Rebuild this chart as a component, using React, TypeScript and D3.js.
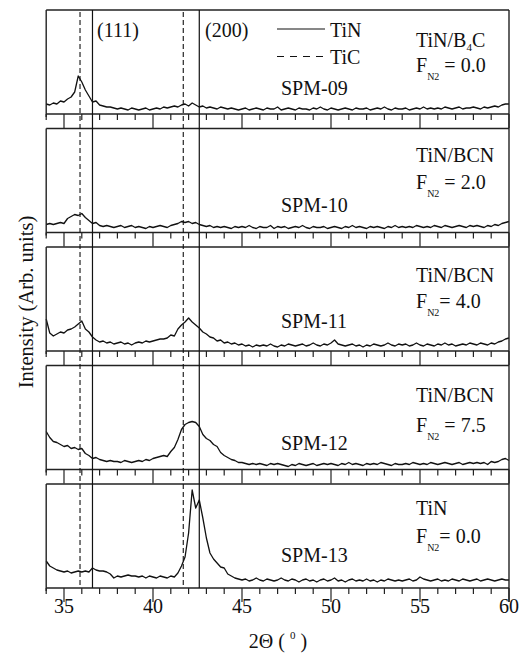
import React from "react";
import * as d3 from "d3";

// ---- data ----
const ANGLE_START = 34;
const ANGLE_STEP = 0.2;
const X_DOMAIN = [34, 60];
const TICK_LABELS = [35, 40, 45, 50, 55, 60];
const TIN_PEAKS = [36.6, 42.6];
const TIC_PEAKS = [35.9, 41.7];
const SAMPLE_IDS = ["SPM-09", "SPM-10", "SPM-11", "SPM-12", "SPM-13"];
const MATERIALS = ["TiN/B4C", "TiN/BCN", "TiN/BCN", "TiN/BCN", "TiN"];
const FN2_LABELS = [" = 0.0", " = 2.0", "= 4.0", " = 7.5", "= 0.0"];

const SPM09 = [
  10, 9, 11, 10, 13, 12, 15, 17, 22, 38,
  32, 24, 18, 12, 13, 9, 8, 7, 7, 6,
  5, 6, 5, 4, 6, 5, 4, 5, 6, 4,
  5, 6, 5, 7, 6, 7, 8, 7, 9, 10,
  8, 11, 9, 7, 8, 6, 7, 6, 5, 7,
  6, 5, 6, 5, 4, 5, 6, 4, 5, 6,
  5, 4, 6, 5, 5, 7, 4, 5, 6, 5,
  4, 6, 5, 5, 4, 6, 5, 7, 5, 4,
  6, 5, 4, 5, 6, 5, 4, 6, 5, 5,
  6, 4, 5, 6, 5, 7, 5, 4, 6, 5,
  5, 6, 4, 5, 6, 5, 7, 5, 6, 5,
  6, 5, 7, 6, 5, 6, 7, 5, 6, 6,
  7, 6, 5, 7, 6, 7, 8, 7, 9, 10,
  10,
];
const SPM10 = [
  8, 9, 8, 9, 10, 9, 14, 16, 18, 17,
  19, 15, 12, 9, 10, 7, 6, 7, 6, 5,
  6, 7, 5, 6, 7, 5, 6, 5, 4, 6,
  5, 6, 7, 6, 5, 7, 8, 9, 11, 10,
  11, 9, 10, 8, 7, 6, 7, 5, 6, 5,
  6, 5, 4, 6, 5, 6, 5, 7, 5, 4,
  6, 5, 5, 7, 4, 6, 5, 6, 4, 5,
  6, 5, 7, 5, 4, 6, 5, 5, 6, 4,
  5, 6, 5, 4, 6, 5, 7, 5, 6, 5,
  4, 6, 5, 6, 5, 4, 6, 5, 7, 5,
  6, 5, 6, 5, 7, 6, 5, 6, 5, 7,
  6, 5, 7, 6, 5, 6, 7, 6, 5, 7,
  6, 7, 6, 5, 7, 6, 8, 7, 9, 10,
  11,
];
const SPM11 = [
  32, 18, 15, 17, 19, 18, 21, 22, 24, 27,
  30, 22, 19, 14, 11, 9, 10, 8, 9, 7,
  8, 9, 7, 8, 6, 8, 9, 8, 10, 9,
  10, 11, 12, 12, 13, 16, 15, 22, 26, 29,
  33, 29, 26, 23, 19, 17, 14, 13, 10, 11,
  8, 9, 7, 8, 6, 7, 5, 6, 4, 6,
  5, 6, 5, 7, 5, 4, 6, 5, 7, 6,
  5, 6, 7, 5, 6, 8, 6, 5, 7, 6,
  8, 11, 7, 6, 5, 6, 7, 5, 6, 4,
  6, 5, 7, 6, 5, 6, 8, 6, 5, 7,
  6, 7, 5, 6, 8, 6, 5, 7, 6, 5,
  7, 6, 8, 6, 7, 5, 6, 7, 6, 8,
  7, 6, 8, 7, 6, 8, 7, 9, 10, 12,
  13,
];
const SPM12 = [
  38, 32, 28, 27, 25, 23, 24, 21, 22, 20,
  21, 16, 14, 11, 12, 10, 9, 8, 9, 8,
  8, 7, 9, 8, 7, 8, 9, 8, 10, 9,
  11, 12, 13, 14, 13, 18, 22, 30, 40, 45,
  47, 48, 47, 43, 35, 31, 29, 25, 23, 17,
  14, 12, 10, 9, 7, 7, 6, 5, 6, 5,
  6, 5, 4, 6, 5, 6, 5, 4, 3, 5,
  4, 6, 5, 4, 5, 6, 4, 5, 6, 5,
  6, 5, 4, 6, 5, 7, 5, 6, 5, 4,
  6, 5, 6, 5, 7, 6, 5, 4, 6, 5,
  5, 6, 5, 7, 6, 5, 6, 5, 7, 6,
  5, 6, 7, 6, 5, 6, 7, 5, 6, 7,
  6, 7, 6, 7, 5, 8, 7, 8, 10, 11,
  9,
];
const SPM13 = [
  27, 22, 20, 18, 17, 16, 17, 15, 16, 17,
  16, 17, 16, 20, 18, 17, 17, 16, 14, 10,
  12, 11, 12, 13, 12, 12, 11, 12, 10, 12,
  11, 10, 12, 11, 10, 12, 11, 15, 22, 31,
  55, 98, 80, 88, 70, 50, 35, 29, 25, 21,
  20, 14, 12, 10, 9, 8, 9, 7, 8, 10,
  8, 7, 9, 8, 7, 8, 10, 8, 7, 9,
  8, 6, 8, 9, 7, 8, 6, 8, 9, 7,
  8, 10, 7, 8, 6, 8, 9, 7, 8, 7,
  9, 7, 8, 6, 8, 7, 9, 8, 7, 8,
  7, 8, 9, 7, 8, 11, 9, 8, 7, 8,
  9, 7, 8, 7, 9, 8, 7, 9, 8, 7,
  8, 9, 7, 8, 9, 8, 7, 8, 9, 8,
  8,
];
const SERIES = [SPM09, SPM10, SPM11, SPM12, SPM13];

// ---- layout ----
const W = 528;
const H = 657;
const LEFT = 46.2;
const RIGHT = 509;
const TOP0 = 10;
const PANEL_H = 104;
const PERIOD = 118.5;
const FONT = "'Liberation Serif', 'Times New Roman', serif";
const TITLE_DY = [36.5, 33, 34.7, 36, 31];
const FN2_DY = [61.7, 60, 61, 66, 59];
const SPM_DY = [85, 83.5, 80.5, 84.5, 78];

export default function App() {
  const x = d3.scaleLinear().domain(X_DOMAIN).range([LEFT, RIGHT]);
  const tickVals = d3.range(X_DOMAIN[0], X_DOMAIN[1] + 1, 1);
  const lastBottom = TOP0 + 4 * PERIOD + PANEL_H;

  const panels = SERIES.map((vals, p) => {
    const top = TOP0 + p * PERIOD;
    const bottom = top + PANEL_H;
    const y = d3.scaleLinear().domain([0, PANEL_H]).range([bottom, top]);
    const line = d3
      .line<number>()
      .x((_, i) => x(ANGLE_START + i * ANGLE_STEP))
      .y((v) => y(v));
    const mat = MATERIALS[p];
    return (
      <g key={p}>
        <path d={line(vals) || ""} fill="none" stroke="#111" strokeWidth={1.3} strokeLinejoin="round" />
        <line x1={LEFT} x2={RIGHT} y1={top} y2={top} stroke="#222" strokeWidth={1.4} />
        <line x1={LEFT} x2={RIGHT} y1={bottom} y2={bottom} stroke="#222" strokeWidth={1.4} />
        <line x1={LEFT} x2={LEFT} y1={top} y2={bottom + 3} stroke="#222" strokeWidth={1.4} />
        {tickVals.map((t) => (
          <line
            key={t}
            x1={x(t)}
            x2={x(t)}
            y1={bottom}
            y2={bottom + (t % 5 === 0 ? 14 : 6)}
            stroke="#222"
            strokeWidth={1.2}
          />
        ))}
        <text x={281} y={top + SPM_DY[p]} fontFamily={FONT} fontSize={20} fill="#111">
          {SAMPLE_IDS[p]}
        </text>
        <text x={416} y={top + TITLE_DY[p]} fontFamily={FONT} fontSize={20} fill="#111">
          {mat === "TiN/B4C" ? (
            <>
              {"TiN/B"}
              <tspan fontSize={11} dy={4}>4</tspan>
              <tspan dy={-4}>C</tspan>
            </>
          ) : (
            mat
          )}
        </text>
        <text x={416} y={top + FN2_DY[p]} fontFamily={FONT} fontSize={20} fill="#111">
          {"F"}
          <tspan fontSize={10} dy={8}>N2</tspan>
          <tspan dy={-8}>{FN2_LABELS[p]}</tspan>
        </text>
      </g>
    );
  });

  return (
    <svg
      width={W}
      height={H}
      style={{ position: "absolute", left: 0, top: 0, background: "#fff" }}
    >
      <rect x={0} y={0} width={W} height={H} fill="#fff" />
      {panels}
      {/* continuous right edge */}
      <line x1={RIGHT} x2={RIGHT} y1={TOP0} y2={lastBottom + 14} stroke="#222" strokeWidth={1.4} />
      {/* reference lines */}
      {TIN_PEAKS.map((v) => (
        <line key={"n" + v} x1={x(v)} x2={x(v)} y1={TOP0} y2={lastBottom} stroke="#111" strokeWidth={1.2} />
      ))}
      {TIC_PEAKS.map((v) => (
        <line
          key={"c" + v}
          x1={x(v)}
          x2={x(v)}
          y1={TOP0 + 2}
          y2={lastBottom}
          stroke="#111"
          strokeWidth={1.1}
          strokeDasharray="5,3"
        />
      ))}
      {/* plane labels */}
      <text x={97} y={37} fontFamily={FONT} fontSize={20} fill="#111">(111)</text>
      <text x={205} y={37} fontFamily={FONT} fontSize={20} fill="#111">(200)</text>
      {/* legend */}
      <line x1={277} x2={325} y1={29} y2={29} stroke="#111" strokeWidth={1.2} />
      <text x={330} y={37} fontFamily={FONT} fontSize={20} fill="#111">TiN</text>
      <line x1={277} x2={325} y1={56.5} y2={56.5} stroke="#111" strokeWidth={1.2} strokeDasharray="7,6" />
      <text x={330} y={63.5} fontFamily={FONT} fontSize={20} fill="#111">TiC</text>
      {/* x tick labels */}
      {TICK_LABELS.map((t) => (
        <text key={t} x={x(t)} y={613} textAnchor="middle" fontFamily={FONT} fontSize={20} fill="#111">
          {t}
        </text>
      ))}
      {/* x title */}
      <text x={278} y={648} textAnchor="middle" fontFamily={FONT} fontSize={20} fill="#111">
        {"2Θ ( "}
        <tspan fontSize={11} dy={-9}>0</tspan>
        <tspan dy={9}>{" )"}</tspan>
      </text>
      {/* y title */}
      <text
        transform={`translate(33, 302) rotate(-90)`}
        textAnchor="middle"
        fontFamily={FONT}
        fontSize={20.5}
        fill="#111"
      >
        Intensity (Arb. units)
      </text>
    </svg>
  );
}
